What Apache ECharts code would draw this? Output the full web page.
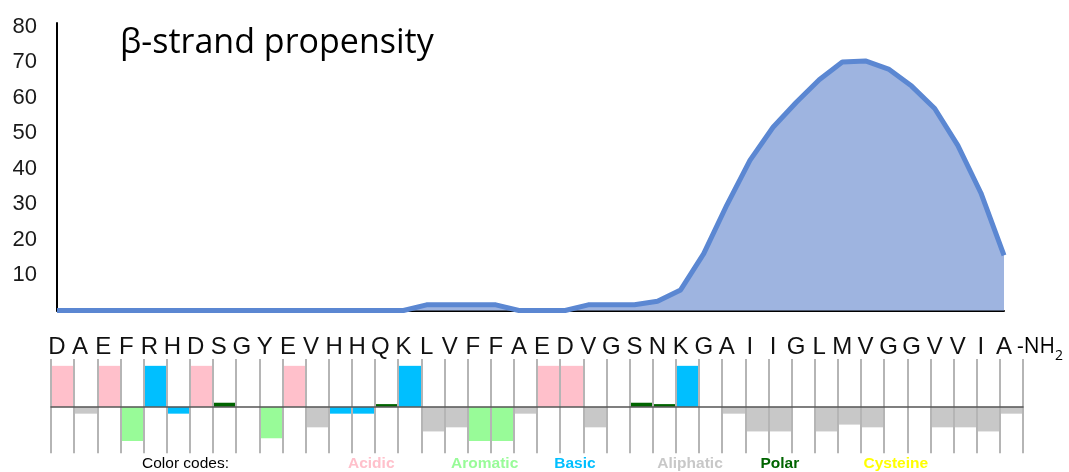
<!DOCTYPE html>
<html>
<head>
<meta charset="utf-8">
<script src="https://cdn.jsdelivr.net/npm/echarts@6/dist/echarts.min.js"></script>
<style>
html,body{margin:0;padding:0;background:#fff;}
#chart{width:1069px;height:472px;}
</style>
</head>
<body>
<div id="chart"></div>
<script>
// ---- Data ----
const residues = ['D','A','E','F','R','H','D','S','G','Y','E','V','H','H','Q','K','L','V','F','F','A','E','D','V','G','S','N','K','G','A','I','I','G','L','M','V','G','G','V','V','I','A'];
const betaStrand = [0,0,0,0,0,0,0,0,0,0,0,0,0,0,0,0,1.6,1.6,1.6,1.6,0,0,0,1.6,1.6,1.6,2.6,5.8,16.0,29.7,42.3,51.6,58.6,65.0,70.0,70.3,68.0,63.2,56.9,46.5,33.1,15.5];
const hydrophilicity = [3,-0.5,3,-2.5,3,-0.5,3,0.3,0,-2.3,3,-1.5,-0.5,-0.5,0.2,3,-1.8,-1.5,-2.5,-2.5,-0.5,3,3,-1.5,0,0.3,0.2,3,0,-0.5,-1.8,-1.8,0,-1.8,-1.3,-1.5,0,0,-1.5,-1.5,-1.8,-0.5];
const yTicks = [10,20,30,40,50,60,70,80];
const groups = ['Acidic','Aromatic','Basic','Aliphatic','Polar','Cysteine'];
const groupOfResidue = {D:'Acidic',E:'Acidic',F:'Aromatic',Y:'Aromatic',W:'Aromatic',K:'Basic',R:'Basic',H:'Basic',A:'Aliphatic',V:'Aliphatic',L:'Aliphatic',I:'Aliphatic',M:'Aliphatic',G:'Aliphatic',P:'Aliphatic',S:'Polar',T:'Polar',N:'Polar',Q:'Polar',C:'Cysteine'};
const titleText = 'β-strand propensity';
const legendTitle = 'Color codes:';

// ---- Styles ----
const groupColors = {Acidic:'#ffc0cb',Aromatic:'#98fb98',Basic:'#00bfff',Aliphatic:'#c8c8c8',Polar:'#006400',Cysteine:'#ffff00'};

const chart = echarts.init(document.getElementById('chart'));

const legendGraphics = [{
  type:'text', left:142, top:456,
  style:{text:legendTitle, fill:'#000', font:'15.5px "Liberation Sans", Arial, sans-serif'}
}];
groups.forEach((g,k)=>{
  legendGraphics.push({
    type:'text', left:348 + 103.1*k, top:456,
    style:{text:g, fill:groupColors[g], font:'bold 15.5px "Liberation Sans", Arial, sans-serif'}
  });
});

const option = {
  animation:false,
  backgroundColor:'#fff',
  grid:[
    {left:57, right:65, top:22.9, height:287.6, containLabel:false},
    {left:51, right:46, top:359, height:94.3, containLabel:false}
  ],
  xAxis:[
    {
      type:'category', gridIndex:0, data:residues, boundaryGap:false,
      axisLine:{show:true, onZero:false, lineStyle:{color:'#000', width:2}},
      axisTick:{show:false},
      axisLabel:{show:true, interval:0, margin:25, color:'#111', fontSize:24, fontFamily:'"Liberation Sans", Arial, sans-serif'},
      splitLine:{show:false}
    },
    {
      type:'category', gridIndex:1, data:residues, boundaryGap:true, z:5,
      axisLine:{show:true, onZero:true, lineStyle:{color:'#555', width:1.5}},
      axisTick:{show:false},
      axisLabel:{show:false},
      splitLine:{show:true, lineStyle:{color:'#b5b5b5', width:2}}
    }
  ],
  yAxis:[
    {
      type:'value', gridIndex:0, min:0, max:81, interval:10,
      axisLine:{show:true, lineStyle:{color:'#000', width:2}},
      axisTick:{show:false},
      splitLine:{show:false},
      axisLabel:{
        show:true, margin:20, color:'#1a1a1a', fontSize:22, fontFamily:'"Liberation Sans", Arial, sans-serif',
        showMaxLabel:false,
        formatter:(v)=> yTicks.indexOf(v) >= 0 ? String(v) : ''
      }
    },
    {
      type:'value', gridIndex:1, min:-3.4, max:3.5, show:false
    }
  ],
  series:[
    {
      type:'line', xAxisIndex:0, yAxisIndex:0, data:betaStrand,
      symbol:'none', smooth:false,
      lineStyle:{color:'#5b87d2', width:5},
      areaStyle:{color:'#9eb4e0', opacity:1},
      z:2
    },
    {
      type:'bar', xAxisIndex:1, yAxisIndex:1, barCategoryGap:'0%',
      data:hydrophilicity.map((v,i)=>({value:v, itemStyle:{color:groupColors[groupOfResidue[residues[i]]]}})),
      z:2
    }
  ],
  graphic:[
    {
      type:'text', left:120, top:26,
      style:{text:titleText, fill:'#000', font:'34px "Open Sans", "Noto Sans", sans-serif'}
    },
    {
      type:'text', left:1017, top:337,
      style:{text:'-NH', fill:'#000', font:'21px "Open Sans", "Noto Sans", sans-serif'}
    },
    {
      type:'text', left:1055, top:349,
      style:{text:'2', fill:'#000', font:'14px "Open Sans", "Noto Sans", sans-serif'}
    }
  ].concat(legendGraphics)
};
chart.setOption(option);
</script>
</body>
</html>
